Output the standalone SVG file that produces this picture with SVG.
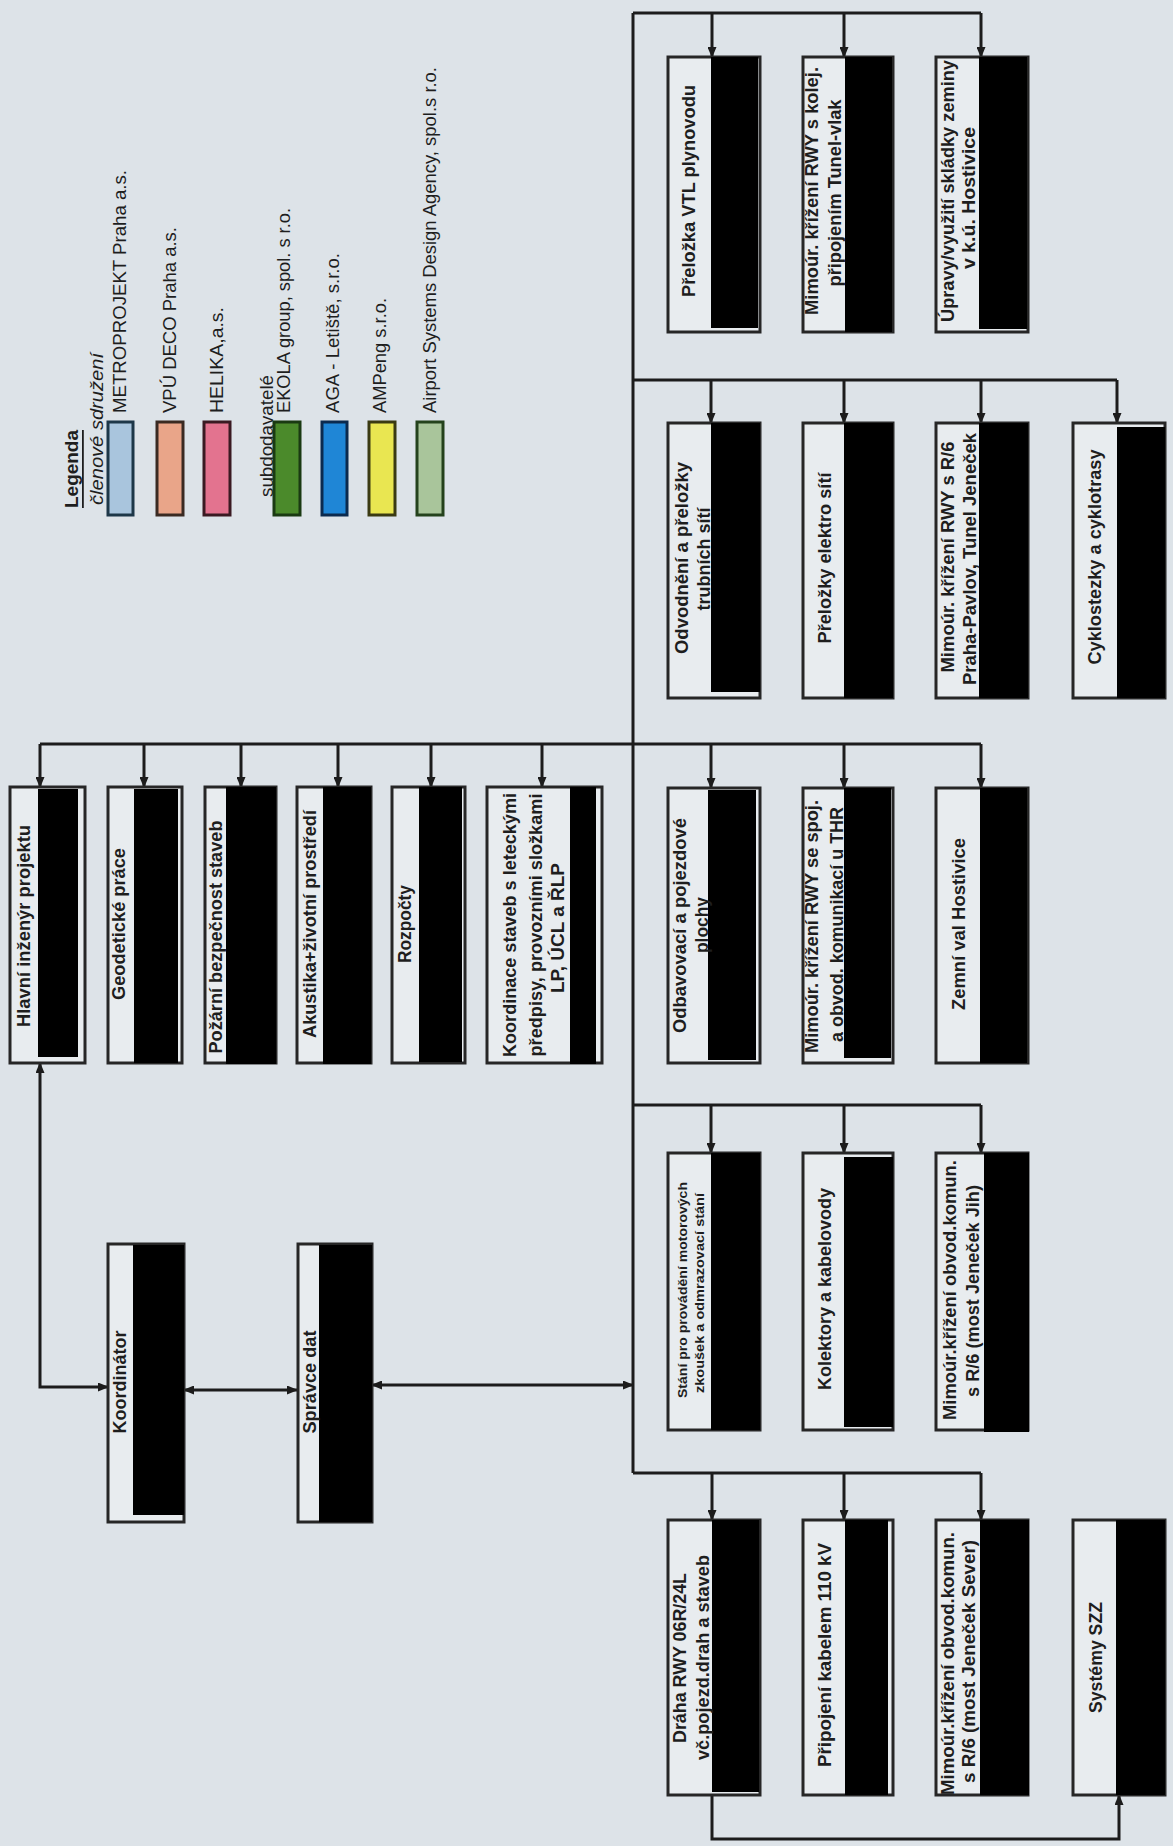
<svg xmlns="http://www.w3.org/2000/svg" width="1173" height="1846" viewBox="0 0 1173 1846">
<style>
.t{font-family:"Liberation Sans",Arial,sans-serif;font-size:18px;font-weight:bold;fill:#1e1e1e;text-anchor:middle;dominant-baseline:central}
.s{font-size:12px}
.lg{font-family:"Liberation Sans",Arial,sans-serif;font-size:18px;fill:#1e1e1e;text-anchor:start;dominant-baseline:central}
.box{fill:#e8ecef;stroke:#262626;stroke-width:3}
.red{fill:#000}
.conn{stroke:#1c1c1c;stroke-width:3;fill:none}
.sw{stroke-width:3}
</style>
<defs>
<marker id="ah" markerUnits="userSpaceOnUse" markerWidth="11" markerHeight="9" refX="10" refY="4.5" orient="auto-start-reverse">
<path d="M0,0 L11,4.5 L0,9 z" fill="#1c1c1c"/>
</marker>
</defs>
<rect x="0" y="0" width="1173" height="1846" fill="#dde3e8"/>

<g id="legend">
<text class="lg" font-weight="bold" text-decoration="underline" transform="translate(72,508) rotate(-90)" textLength="78" lengthAdjust="spacingAndGlyphs">Legenda</text>
<text class="lg" font-style="italic" transform="translate(97,505) rotate(-90)" textLength="152" lengthAdjust="spacingAndGlyphs">členové sdružení</text>
<rect class="sw" x="108" y="422" width="25" height="93" fill="#a9c5dd" stroke="#1d3748"/>
<text class="lg" transform="translate(120,413) rotate(-90)" textLength="243" lengthAdjust="spacingAndGlyphs">METROPROJEKT Praha a.s.</text>
<rect class="sw" x="157" y="422" width="26" height="93" fill="#e9a589" stroke="#3a2a22"/>
<text class="lg" transform="translate(170,413) rotate(-90)" textLength="186" lengthAdjust="spacingAndGlyphs">VPÚ DECO Praha a.s.</text>
<rect class="sw" x="204" y="422" width="26" height="93" fill="#e3738f" stroke="#3a1a22"/>
<text class="lg" transform="translate(217,413) rotate(-90)" textLength="106" lengthAdjust="spacingAndGlyphs">HELIKA,a.s.</text>
<text class="lg" transform="translate(267,497) rotate(-90)" textLength="122" lengthAdjust="spacingAndGlyphs">subdodavatelé</text>
<rect class="sw" x="274" y="422" width="26" height="93" fill="#4b8a2b" stroke="#1a3a12"/>
<text class="lg" transform="translate(284,413) rotate(-90)" textLength="205" lengthAdjust="spacingAndGlyphs">EKOLA group, spol. s r.o.</text>
<rect class="sw" x="322" y="422" width="25" height="93" fill="#1f86d6" stroke="#0b2a4e"/>
<text class="lg" transform="translate(333,413) rotate(-90)" textLength="160" lengthAdjust="spacingAndGlyphs">AGA - Letiště, s.r.o.</text>
<rect class="sw" x="369" y="422" width="26" height="93" fill="#e9e651" stroke="#3a3a12"/>
<text class="lg" transform="translate(380,413) rotate(-90)" textLength="115" lengthAdjust="spacingAndGlyphs">AMPeng s.r.o.</text>
<rect class="sw" x="417" y="422" width="26" height="93" fill="#a9c59b" stroke="#24421c"/>
<text class="lg" transform="translate(430,413) rotate(-90)" textLength="346" lengthAdjust="spacingAndGlyphs">Airport Systems Design Agency, spol.s r.o.</text>
</g>

<g id="connectors">
<path class="conn" d="M633,13 V1473"/>
<path class="conn" d="M633,13 H981"/>
<path class="conn" d="M712,13 V57" marker-end="url(#ah)"/>
<path class="conn" d="M844,13 V57" marker-end="url(#ah)"/>
<path class="conn" d="M981,13 V57" marker-end="url(#ah)"/>
<path class="conn" d="M633,380 H1117"/>
<path class="conn" d="M711,380 V423" marker-end="url(#ah)"/>
<path class="conn" d="M844,380 V423" marker-end="url(#ah)"/>
<path class="conn" d="M981,380 V423" marker-end="url(#ah)"/>
<path class="conn" d="M1117,380 V423" marker-end="url(#ah)"/>
<path class="conn" d="M40,744 H981"/>
<path class="conn" d="M40,744 V787" marker-end="url(#ah)"/>
<path class="conn" d="M144,744 V787" marker-end="url(#ah)"/>
<path class="conn" d="M241,744 V787" marker-end="url(#ah)"/>
<path class="conn" d="M338,744 V787" marker-end="url(#ah)"/>
<path class="conn" d="M431,744 V787" marker-end="url(#ah)"/>
<path class="conn" d="M542,744 V787" marker-end="url(#ah)"/>
<path class="conn" d="M711,744 V788" marker-end="url(#ah)"/>
<path class="conn" d="M844,744 V788" marker-end="url(#ah)"/>
<path class="conn" d="M981,744 V788" marker-end="url(#ah)"/>
<path class="conn" d="M633,1105 H981"/>
<path class="conn" d="M711,1105 V1153" marker-end="url(#ah)"/>
<path class="conn" d="M844,1105 V1153" marker-end="url(#ah)"/>
<path class="conn" d="M981,1105 V1153" marker-end="url(#ah)"/>
<path class="conn" d="M633,1473 H981"/>
<path class="conn" d="M712,1473 V1520" marker-end="url(#ah)"/>
<path class="conn" d="M844,1473 V1520" marker-end="url(#ah)"/>
<path class="conn" d="M981,1473 V1520" marker-end="url(#ah)"/>
<path class="conn" d="M712,1795 V1839 H1119 V1795" marker-end="url(#ah)"/>
<path class="conn" d="M40,1063 V1387 H108" marker-start="url(#ah)" marker-end="url(#ah)"/>
<path class="conn" d="M184,1390 H297" marker-start="url(#ah)" marker-end="url(#ah)"/>
<path class="conn" d="M372,1385 H633" marker-start="url(#ah)" marker-end="url(#ah)"/>
</g>

<g id="n-hlavni">
<rect class="box" x="10" y="787" width="75" height="276"/>
<rect class="red" x="38" y="789" width="40" height="268"/>
<text class="t" transform="translate(24,926) rotate(-90)" textLength="202" lengthAdjust="spacingAndGlyphs">Hlavní inženýr projektu</text>
</g>
<g id="n-geodeticke">
<rect class="box" x="108" y="787" width="74" height="276"/>
<rect class="red" x="134" y="789" width="44" height="274"/>
<text class="t" transform="translate(119,924) rotate(-90)" textLength="152" lengthAdjust="spacingAndGlyphs">Geodetické práce</text>
</g>
<g id="n-pozarni">
<rect class="box" x="205" y="787" width="71" height="276"/>
<rect class="red" x="226" y="787" width="50" height="277"/>
<text class="t" transform="translate(215.5,937) rotate(-90)" textLength="233" lengthAdjust="spacingAndGlyphs">Požární bezpečnost staveb</text>
</g>
<g id="n-akustika">
<rect class="box" x="297" y="787" width="74" height="276"/>
<rect class="red" x="323" y="787" width="48" height="277"/>
<text class="t" transform="translate(310,924) rotate(-90)" textLength="228" lengthAdjust="spacingAndGlyphs">Akustika+životní prostředí</text>
</g>
<g id="n-rozpocty">
<rect class="box" x="392" y="787" width="73" height="276"/>
<rect class="red" x="419" y="787" width="43" height="275"/>
<text class="t" transform="translate(405,924) rotate(-90)" textLength="78" lengthAdjust="spacingAndGlyphs">Rozpočty</text>
</g>
<g id="n-koordinace">
<rect class="box" x="487" y="787" width="115" height="276"/>
<rect class="red" x="570" y="787" width="26" height="277"/>
<text class="t" transform="translate(510,925) rotate(-90)" textLength="264" lengthAdjust="spacingAndGlyphs">Koordinace staveb s leteckými</text>
<text class="t" transform="translate(536,925) rotate(-90)" textLength="263" lengthAdjust="spacingAndGlyphs">předpisy, provozními složkami</text>
<text class="t" transform="translate(557.5,928) rotate(-90)" textLength="130" lengthAdjust="spacingAndGlyphs">LP, ÚCL a ŘLP</text>
</g>
<g id="n-koordinator">
<rect class="box" x="108" y="1244" width="76" height="278"/>
<rect class="red" x="133" y="1245" width="51" height="270"/>
<text class="t" transform="translate(120,1382) rotate(-90)" textLength="103" lengthAdjust="spacingAndGlyphs">Koordinátor</text>
</g>
<g id="n-spravce">
<rect class="box" x="298" y="1244" width="74" height="278"/>
<rect class="red" x="319" y="1245" width="53" height="277"/>
<text class="t" transform="translate(310,1382) rotate(-90)" textLength="103" lengthAdjust="spacingAndGlyphs">Správce dat</text>
</g>

<g id="n-vtl">
<rect class="box" x="668" y="57" width="92" height="275"/>
<rect class="red" x="711" y="57" width="47" height="271"/>
<text class="t" transform="translate(689,191) rotate(-90)" textLength="212" lengthAdjust="spacingAndGlyphs">Přeložka VTL plynovodu</text>
</g>
<g id="n-kolej">
<rect class="box" x="803" y="57" width="90" height="275"/>
<rect class="red" x="845" y="57" width="47" height="275"/>
<text class="t" transform="translate(812,191) rotate(-90)" textLength="248" lengthAdjust="spacingAndGlyphs">Mimoúr. křížení RWY s kolej.</text>
<text class="t" transform="translate(835,193) rotate(-90)" textLength="187" lengthAdjust="spacingAndGlyphs">připojením Tunel-vlak</text>
</g>
<g id="n-zemina">
<rect class="box" x="936" y="57" width="92" height="275"/>
<rect class="red" x="979" y="57" width="48" height="272"/>
<text class="t" transform="translate(948,191) rotate(-90)" textLength="262" lengthAdjust="spacingAndGlyphs">Úpravy/využití skládky zeminy</text>
<text class="t" transform="translate(969,198) rotate(-90)" textLength="142" lengthAdjust="spacingAndGlyphs">v k.ú. Hostivice</text>
</g>

<g id="n-odvodneni">
<rect class="box" x="668" y="423" width="92" height="275"/>
<rect class="red" x="711" y="423" width="49" height="269"/>
<text class="t" transform="translate(682,558) rotate(-90)" textLength="192" lengthAdjust="spacingAndGlyphs">Odvodnění a přeložky</text>
<text class="t" transform="translate(704,559) rotate(-90)" textLength="103" lengthAdjust="spacingAndGlyphs">trubních sítí</text>
</g>
<g id="n-elektro">
<rect class="box" x="803" y="423" width="90" height="275"/>
<rect class="red" x="844" y="423" width="49" height="275"/>
<text class="t" transform="translate(825,558) rotate(-90)" textLength="171" lengthAdjust="spacingAndGlyphs">Přeložky elektro sítí</text>
</g>
<g id="n-r6-pavlov">
<rect class="box" x="936" y="423" width="92" height="275"/>
<rect class="red" x="979" y="423" width="49" height="275"/>
<text class="t" transform="translate(948,557) rotate(-90)" textLength="231" lengthAdjust="spacingAndGlyphs">Mimoúr. křížení RWY s R/6</text>
<text class="t" transform="translate(970,559) rotate(-90)" textLength="252" lengthAdjust="spacingAndGlyphs">Praha-Pavlov, Tunel Jeneček</text>
</g>
<g id="n-cyklo">
<rect class="box" x="1073" y="423" width="92" height="275"/>
<rect class="red" x="1117" y="427" width="48" height="271"/>
<text class="t" transform="translate(1095,557) rotate(-90)" textLength="215" lengthAdjust="spacingAndGlyphs">Cyklostezky a cyklotrasy</text>
</g>

<g id="n-odbavovaci">
<rect class="box" x="668" y="788" width="92" height="275"/>
<rect class="red" x="708" y="790" width="48" height="270"/>
<text class="t" transform="translate(680,925.5) rotate(-90)" textLength="215" lengthAdjust="spacingAndGlyphs">Odbavovací a pojezdové</text>
<text class="t" transform="translate(702,925) rotate(-90)" textLength="56" lengthAdjust="spacingAndGlyphs">plochy</text>
</g>
<g id="n-thr">
<rect class="box" x="803" y="788" width="90" height="275"/>
<rect class="red" x="844" y="788" width="47" height="270"/>
<text class="t" transform="translate(812,926.5) rotate(-90)" textLength="253" lengthAdjust="spacingAndGlyphs">Mimoúr. křížení RWY se spoj.</text>
<text class="t" transform="translate(837,924.5) rotate(-90)" textLength="235" lengthAdjust="spacingAndGlyphs">a obvod. komunikací u THR</text>
</g>
<g id="n-val">
<rect class="box" x="936" y="788" width="92" height="275"/>
<rect class="red" x="980" y="788" width="47" height="275"/>
<text class="t" transform="translate(959,924) rotate(-90)" textLength="172" lengthAdjust="spacingAndGlyphs">Zemní val Hostivice</text>
</g>

<g id="n-stani">
<rect class="box" x="668" y="1153" width="92" height="277"/>
<rect class="red" x="711" y="1153" width="49" height="277"/>
<text class="t s" transform="translate(683,1290) rotate(-90)" textLength="216" lengthAdjust="spacingAndGlyphs">Stání pro provádění motorových</text>
<text class="t s" transform="translate(700,1293) rotate(-90)" textLength="200" lengthAdjust="spacingAndGlyphs">zkoušek a odmrazovací stání</text>
</g>
<g id="n-kolektory">
<rect class="box" x="803" y="1153" width="90" height="277"/>
<rect class="red" x="844" y="1157" width="49" height="270"/>
<text class="t" transform="translate(825,1289) rotate(-90)" textLength="202" lengthAdjust="spacingAndGlyphs">Kolektory a kabelovody</text>
</g>
<g id="n-most-jih">
<rect class="box" x="936" y="1153" width="92" height="277"/>
<rect class="red" x="984" y="1153" width="45" height="279"/>
<text class="t" transform="translate(950,1290) rotate(-90)" textLength="260" lengthAdjust="spacingAndGlyphs">Mimoúr.křížení obvod.komun.</text>
<text class="t" transform="translate(973,1291) rotate(-90)" textLength="212" lengthAdjust="spacingAndGlyphs">s R/6 (most Jeneček Jih)</text>
</g>

<g id="n-draha">
<rect class="box" x="668" y="1520" width="92" height="275"/>
<rect class="red" x="712" y="1520" width="47" height="272"/>
<text class="t" transform="translate(680,1658) rotate(-90)" textLength="170" lengthAdjust="spacingAndGlyphs">Dráha RWY 06R/24L</text>
<text class="t" transform="translate(703,1657.5) rotate(-90)" textLength="205" lengthAdjust="spacingAndGlyphs">vč.pojezd.drah a staveb</text>
</g>
<g id="n-kabel110">
<rect class="box" x="803" y="1520" width="90" height="275"/>
<rect class="red" x="845" y="1520" width="43" height="275"/>
<text class="t" transform="translate(825,1655) rotate(-90)" textLength="224" lengthAdjust="spacingAndGlyphs">Připojení kabelem 110 kV</text>
</g>
<g id="n-most-sever">
<rect class="box" x="936" y="1520" width="92" height="275"/>
<rect class="red" x="980" y="1520" width="49" height="275"/>
<text class="t" transform="translate(948,1663.5) rotate(-90)" textLength="263" lengthAdjust="spacingAndGlyphs">Mimoúr.křížení obvod.komun.</text>
<text class="t" transform="translate(969,1661.5) rotate(-90)" textLength="243" lengthAdjust="spacingAndGlyphs">s R/6 (most Jeneček Sever)</text>
</g>
<g id="n-szz">
<rect class="box" x="1073" y="1520" width="92" height="275"/>
<rect class="red" x="1116" y="1520" width="49" height="275"/>
<text class="t" transform="translate(1096,1657.5) rotate(-90)" textLength="111" lengthAdjust="spacingAndGlyphs">Systémy SZZ</text>
</g>
</svg>
